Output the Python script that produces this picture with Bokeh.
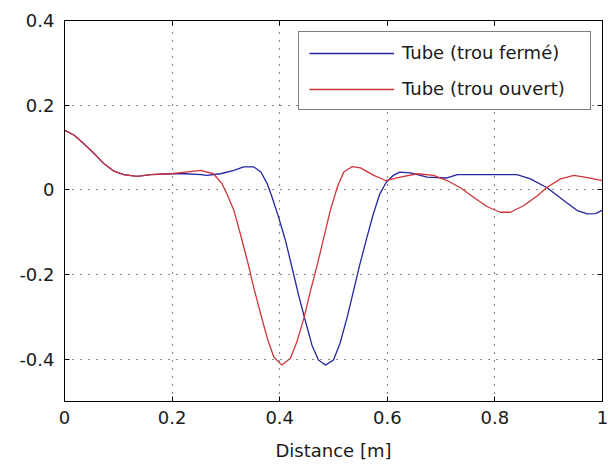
from bokeh.plotting import figure
from bokeh.models import LinearAxis, FixedTicker, Legend, LegendItem
from bokeh.embed import file_html
from bokeh.resources import INLINE

# ---- data ----
x_ferme = [0, 0.018, 0.036, 0.055, 0.073, 0.092, 0.110, 0.135, 0.160, 0.197, 0.225, 0.253,
           0.265, 0.290, 0.315, 0.333, 0.352, 0.365, 0.377, 0.386, 0.398, 0.411, 0.423, 0.435,
           0.448, 0.460, 0.472, 0.485, 0.500, 0.512, 0.525, 0.537, 0.549, 0.562, 0.574, 0.586,
           0.598, 0.611, 0.623, 0.643, 0.674, 0.711, 0.730, 0.758, 0.841, 0.866, 0.897, 0.928,
           0.953, 0.972, 0.987, 1.0]
y_ferme = [0.141, 0.129, 0.109, 0.086, 0.062, 0.044, 0.036, 0.032, 0.036, 0.038, 0.038, 0.036,
           0.034, 0.038, 0.046, 0.054, 0.054, 0.042, 0.014, -0.018, -0.065, -0.121, -0.184, -0.248,
           -0.311, -0.367, -0.402, -0.414, -0.402, -0.363, -0.303, -0.240, -0.176, -0.113, -0.057, -0.010,
           0.018, 0.034, 0.042, 0.040, 0.030, 0.028, 0.036, 0.036, 0.036, 0.026, 0.005, -0.025,
           -0.049, -0.057, -0.056, -0.048]

x_ouvert = [0, 0.018, 0.036, 0.055, 0.073, 0.092, 0.110, 0.135, 0.160, 0.197, 0.225, 0.253,
            0.277, 0.293, 0.302, 0.315, 0.327, 0.340, 0.352, 0.365, 0.377, 0.389, 0.404, 0.420,
            0.432, 0.445, 0.457, 0.470, 0.482, 0.494, 0.507, 0.519, 0.535, 0.550, 0.575, 0.597,
            0.624, 0.656, 0.686, 0.711, 0.736, 0.761, 0.786, 0.810, 0.829, 0.854, 0.879, 0.897,
            0.922, 0.947, 0.972, 1.0]
y_ouvert = [0.141, 0.129, 0.109, 0.086, 0.062, 0.044, 0.036, 0.032, 0.036, 0.038, 0.042, 0.046,
            0.038, 0.014, -0.010, -0.049, -0.105, -0.168, -0.232, -0.295, -0.351, -0.395, -0.414, -0.398,
            -0.359, -0.303, -0.240, -0.176, -0.113, -0.049, 0.006, 0.042, 0.055, 0.052, 0.034, 0.022,
            0.030, 0.038, 0.034, 0.022, 0.005, -0.018, -0.040, -0.053, -0.053, -0.037, -0.014, 0.006,
            0.026, 0.034, 0.029, 0.022]

x_ticks = [0, 0.2, 0.4, 0.6, 0.8, 1.0]
x_tick_labels = ["0", "0.2", "0.4", "0.6", "0.8", "1"]
y_ticks = [-0.4, -0.2, 0, 0.2, 0.4]
y_tick_labels = ["-0.4", "-0.2", "0", "0.2", "0.4"]

series_names = ["Tube (trou fermé)", "Tube (trou ouvert)"]
x_label = "Distance [m]"

FONT = "DejaVu Sans"
FS = "18px"
TXT = "#1a1a1a"

p = figure(width=608, height=464, x_range=(0, 1), y_range=(-0.5, 0.4),
           output_backend="svg", toolbar_location=None,
           min_border_left=64, min_border_right=6, min_border_top=20, min_border_bottom=63)
p.background_fill_color = "white"
p.border_fill_color = "white"
p.outline_line_color = "black"
p.outline_line_width = 1

# axes
for ax, ticks, labels in ((p.xaxis[0], x_ticks, x_tick_labels), (p.yaxis[0], y_ticks, y_tick_labels)):
    ax.ticker = FixedTicker(ticks=ticks)
    ax.major_label_overrides = {t: l for t, l in zip(ticks, labels)}
    ax.major_tick_in = 5
    ax.major_tick_out = 0
    ax.minor_tick_in = 0
    ax.minor_tick_out = 0
    ax.axis_line_color = "black"
    ax.major_tick_line_color = "black"
    ax.major_label_text_font = FONT
    ax.major_label_text_font_size = FS
    ax.major_label_text_color = TXT
p.xaxis[0].major_label_standoff = 9
p.yaxis[0].major_label_standoff = 10
p.xaxis[0].axis_label = x_label
p.xaxis[0].axis_label_text_font = FONT
p.xaxis[0].axis_label_text_font_size = FS
p.xaxis[0].axis_label_text_font_style = "normal"
p.xaxis[0].axis_label_text_color = TXT
p.xaxis[0].axis_label_standoff = 13

# mirrored axes (ticks only) on top and right
for side, ticks in (("above", x_ticks), ("right", y_ticks)):
    ax = LinearAxis(ticker=FixedTicker(ticks=ticks),
                    major_label_overrides={t: "" for t in ticks},
                    major_label_text_font_size="1px", major_label_standoff=0,
                    major_tick_in=5, major_tick_out=0, minor_tick_in=0, minor_tick_out=0,
                    axis_line_color="black", major_tick_line_color="black")
    p.add_layout(ax, side)

# grid
for g in (p.xgrid[0], p.ygrid[0]):
    g.grid_line_color = "black"
    g.grid_line_dash = "1 7"
    g.grid_line_width = 1.2
    g.grid_line_alpha = 0.9
p.xgrid[0].ticker = FixedTicker(ticks=x_ticks)
p.ygrid[0].ticker = FixedTicker(ticks=y_ticks)

r_ferme = p.line(x_ferme, y_ferme, line_color="#2424a0", line_width=1.3)
r_ouvert = p.line(x_ouvert, y_ouvert, line_color="#d0343a", line_width=1.3)

legend = Legend(items=[LegendItem(label=series_names[0], renderers=[r_ferme]),
                       LegendItem(label=series_names[1], renderers=[r_ouvert])],
                location=(234, 291))
legend.border_line_color = "black"
legend.border_line_width = 1
legend.background_fill_color = "white"
legend.background_fill_alpha = 1
legend.label_text_font = FONT
legend.label_text_font_size = FS
legend.label_text_color = TXT
legend.padding = 10
legend.spacing = 15
legend.glyph_width = 85
legend.glyph_height = 20
legend.label_height = 20
legend.label_width = 178
legend.label_standoff = 8
legend.margin = 0
p.add_layout(legend, "center")

open("out.html", "w").write(file_html(p, INLINE))
